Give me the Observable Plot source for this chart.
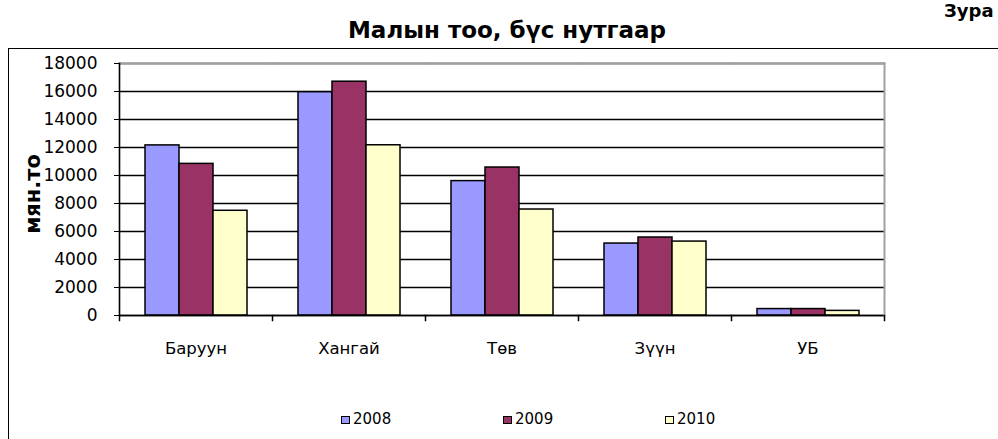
<!DOCTYPE html>
<html>
<head>
<meta charset="utf-8">
<script src="https://cdn.jsdelivr.net/npm/d3@7"></script>
<script src="https://cdn.jsdelivr.net/npm/@observablehq/plot@0.6"></script>
<style>
  html, body { margin: 0; padding: 0; background: #fff; overflow: hidden; }
  #wrap { position: relative; width: 998px; height: 439px; overflow: hidden; font-family: "DejaVu Sans", sans-serif; color: #000; }
  #wrap > * { position: absolute; }
  .t { white-space: nowrap; line-height: 1; }
  .sw { display: inline-block; width: 7px; height: 6px; border: 1.5px solid #000; vertical-align: middle; }
</style>
</head>
<body>
<div id="wrap"></div>
<script>
const categories = ["Баруун", "Хангай", "Төв", "Зүүн", "УБ"];
const years = ["2008", "2009", "2010"];
const v2008 = [12150, 15950, 9600, 5140, 460];
const v2009 = [10830, 16700, 10570, 5570, 460];
const v2010 = [7480, 12160, 7570, 5280, 330];
const yTicks = [0, 2000, 4000, 6000, 8000, 10000, 12000, 14000, 16000, 18000];
const colors = ["#9999FF", "#993366", "#FFFFCC"];
const title = "Малын тоо, бүс нутгаар";
const yLabel = "мян.то";
const corner = "Зура";

const series = [v2008, v2009, v2010];
const table = categories.flatMap((c, i) => years.map((y, j) => ({cat: c, year: y, value: series[j][i]})));

const W = 998, H = 439, mL = 117, mR = 113, mT = 63, mB = 124;
const plotH = H - mT - mB;

const chart = Plot.plot({
  width: W, height: H,
  marginLeft: mL, marginRight: mR, marginTop: mT, marginBottom: mB,
  style: {fontFamily: "DejaVu Sans", background: "transparent", color: "#000"},
  fx: {domain: categories, padding: 0, axis: null, label: null},
  x: {domain: years, paddingInner: 0, paddingOuter: 0.75, axis: null},
  y: {domain: [0, 18000], axis: null},
  color: {domain: years, range: colors},
  marks: [
    Plot.gridY(yTicks, {stroke: "#000", strokeOpacity: 1, strokeWidth: 1.3}),
    Plot.barY(table, {fx: "cat", x: "year", y: "value", fill: "year", stroke: "#000", strokeWidth: 1.5}),
    Plot.ruleY([0], {stroke: "#000", strokeWidth: 1.6}),
    Plot.frame({anchor: "top", stroke: "#a0a0a0", strokeWidth: 2}),
    Plot.frame({anchor: "right", stroke: "#a0a0a0", strokeWidth: 2, facetAnchor: "right"}),
    Plot.frame({anchor: "left", stroke: "#000", strokeWidth: 1.5, insetTop: plotH, insetBottom: -5}),
    Plot.frame({anchor: "right", stroke: "#000", strokeWidth: 1.5, insetTop: plotH, insetBottom: -5, facetAnchor: "right"}),
    Plot.frame({anchor: "left", stroke: "#000", strokeWidth: 1.6, facetAnchor: "left"}),
    Plot.axisY({ticks: yTicks, tickSize: 5, tickPadding: 17, tickFormat: d => String(d), fontSize: 17, label: null, facetAnchor: "left"}),
    Plot.axisFx({anchor: "bottom", tickSize: 0, tickPadding: 27, fontSize: 16.5, label: null})
  ]
});

const wrap = document.getElementById("wrap");
chart.style.left = "0px"; chart.style.top = "0px";
wrap.appendChild(chart);

// outer chart frame
const fr = document.createElement("div");
fr.style.cssText = "left:8px;top:48px;width:1200px;height:600px;border-left:1.6px solid #000;border-top:1.6px solid #000;pointer-events:none;";
wrap.appendChild(fr);

// title
const t = document.createElement("div");
t.className = "t";
t.textContent = title;
t.style.cssText += "left:0;width:1014px;text-align:center;top:19px;font-size:23px;font-weight:bold;";
wrap.appendChild(t);

// corner text
const c = document.createElement("div");
c.className = "t";
c.textContent = corner;
c.style.cssText += "left:944px;top:2px;font-size:18px;font-weight:bold;";
wrap.appendChild(c);

// y label
const yl = document.createElement("div");
yl.className = "t";
yl.textContent = yLabel;
yl.style.cssText += "left:33px;top:194px;font-size:21px;font-weight:bold;transform:translate(-50%,-50%) rotate(-90deg);";
wrap.appendChild(yl);

// legend
const legX = [341, 503, 665];
years.forEach((y, i) => {
  const d = document.createElement("div");
  d.className = "t";
  d.style.cssText += `left:${legX[i]}px;top:412px;font-size:15px;`;
  d.innerHTML = `<span class="sw" style="background:${colors[i]}"></span><span style="margin-left:3px;vertical-align:middle">${y}</span>`;
  wrap.appendChild(d);
});
</script>
</body>
</html>
